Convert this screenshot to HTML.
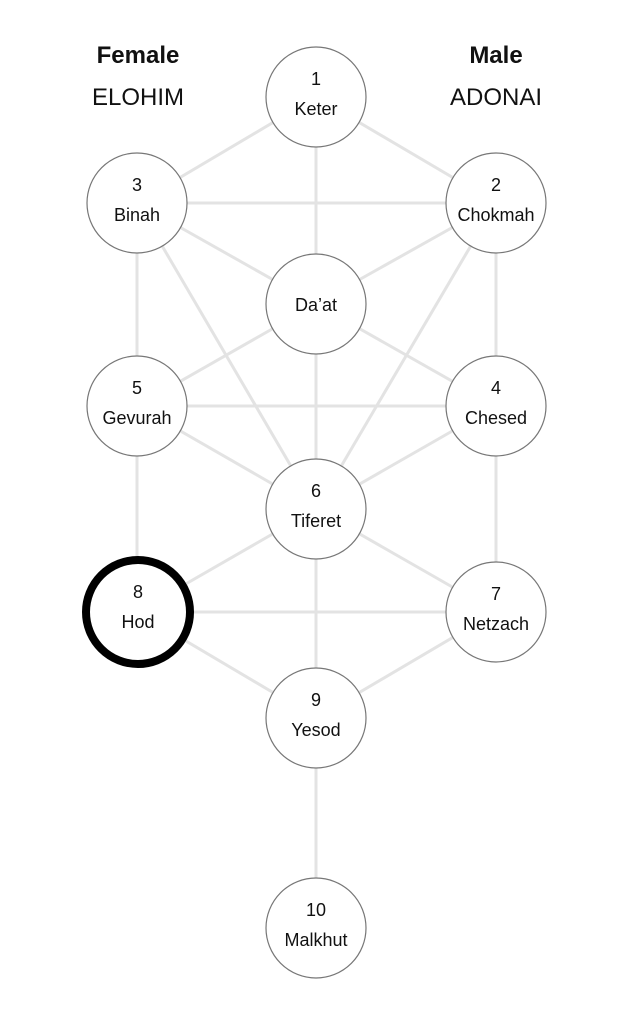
<!DOCTYPE html>
<html><head><style>
html,body{margin:0;padding:0;background:#fff;width:633px;height:1024px;overflow:hidden}
svg text{font-family:"Liberation Sans",sans-serif;fill:#111}
</style></head><body>
<svg width="633" height="1024" viewBox="0 0 633 1024">
<g stroke="#e3e3e3" stroke-width="3">
<line x1="316" y1="97" x2="137" y2="203"/>
<line x1="316" y1="97" x2="496" y2="203"/>
<line x1="316" y1="97" x2="316" y2="509"/>
<line x1="137" y1="203" x2="496" y2="203"/>
<line x1="137" y1="203" x2="316" y2="304"/>
<line x1="496" y1="203" x2="316" y2="304"/>
<line x1="137" y1="203" x2="137" y2="612"/>
<line x1="496" y1="203" x2="496" y2="612"/>
<line x1="137" y1="203" x2="316" y2="509"/>
<line x1="496" y1="203" x2="316" y2="509"/>
<line x1="316" y1="304" x2="137" y2="406"/>
<line x1="316" y1="304" x2="496" y2="406"/>
<line x1="137" y1="406" x2="496" y2="406"/>
<line x1="137" y1="406" x2="316" y2="509"/>
<line x1="496" y1="406" x2="316" y2="509"/>
<line x1="316" y1="509" x2="137" y2="612"/>
<line x1="316" y1="509" x2="496" y2="612"/>
<line x1="316" y1="509" x2="316" y2="928"/>
<line x1="137" y1="612" x2="496" y2="612"/>
<line x1="137" y1="612" x2="316" y2="718"/>
<line x1="496" y1="612" x2="316" y2="718"/>
</g>
<g fill="#fff" stroke="#777" stroke-width="1.2">
<circle cx="316" cy="97" r="50"/>
<circle cx="137" cy="203" r="50"/>
<circle cx="496" cy="203" r="50"/>
<circle cx="316" cy="304" r="50"/>
<circle cx="137" cy="406" r="50"/>
<circle cx="496" cy="406" r="50"/>
<circle cx="316" cy="509" r="50"/>
<circle cx="496" cy="612" r="50"/>
<circle cx="316" cy="718" r="50"/>
<circle cx="316" cy="928" r="50"/>
</g>
<circle cx="138" cy="612" r="52" fill="#fff" stroke="#000" stroke-width="8"/>
<g font-size="18" text-anchor="middle">
<text x="316" y="85">1</text><text x="316" y="115">Keter</text>
<text x="137" y="191">3</text><text x="137" y="221">Binah</text>
<text x="496" y="191">2</text><text x="496" y="221">Chokmah</text>
<text x="316" y="311">Da’at</text>
<text x="137" y="394">5</text><text x="137" y="424">Gevurah</text>
<text x="496" y="394">4</text><text x="496" y="424">Chesed</text>
<text x="316" y="497">6</text><text x="316" y="527">Tiferet</text>
<text x="138" y="598">8</text><text x="138" y="628">Hod</text>
<text x="496" y="600">7</text><text x="496" y="630">Netzach</text>
<text x="316" y="706">9</text><text x="316" y="736">Yesod</text>
<text x="316" y="916">10</text><text x="316" y="946">Malkhut</text>
</g>
<g font-size="24" text-anchor="middle">
<text x="138" y="63" font-weight="bold">Female</text>
<text x="138" y="105">ELOHIM</text>
<text x="496" y="63" font-weight="bold">Male</text>
<text x="496" y="105">ADONAI</text>
</g>
</svg>
</body></html>
